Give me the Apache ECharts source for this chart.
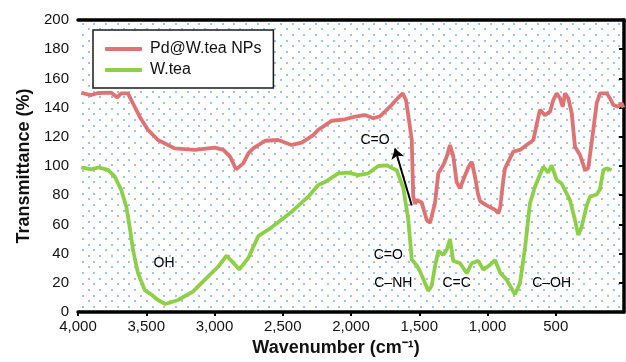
<!DOCTYPE html>
<html>
<head>
<meta charset="utf-8">
<script src="https://cdn.jsdelivr.net/npm/echarts@6/dist/echarts.min.js"></script>
<style>
  html, body { margin: 0; padding: 0; background: #fff; }
  #chart { width: 626px; height: 362px; }
</style>
</head>
<body>
<div id="chart"></div>
<script>
// 数据：波数 / 透过率
const pdWavenumber = [3976, 3903, 3853, 3756, 3712, 3683, 3634, 3585, 3548, 3487, 3414, 3292, 3145, 2999, 2935,
  2886, 2842, 2789, 2752, 2716, 2630, 2533, 2435, 2361, 2276, 2240, 2141, 2044, 1971, 1897, 1837, 1788, 1714,
  1670, 1641, 1621, 1597, 1573, 1555, 1544, 1530, 1519, 1482, 1445, 1421, 1385, 1360, 1324, 1300, 1275, 1250,
  1226, 1201, 1178, 1141, 1116, 1092, 1070, 1055, 1006, 945, 921, 906, 896, 884, 872, 811, 762, 713, 664, 641,
  616, 579, 542, 518, 493, 469, 449, 432, 408, 383, 359, 322, 286, 262, 225, 200, 176, 127, 103, 78, 42, 17, 5];
const pdTransmittance = [150, 148.6, 150, 150.2, 147, 149.8, 149.8, 140.6, 133.8, 124.7, 117.8, 112.1, 111, 112.6, 111,
  106.4, 97.7, 101.8, 108.7, 112.1, 117.3, 117.8, 114.4, 116, 121.2, 124.7, 131, 132, 133.8, 134.9, 132.7, 134, 140.6,
  145.2, 148, 149.8, 145, 130, 117.8, 79, 74, 76.7, 75, 63, 61, 74.5, 95, 100.7, 106, 114.4, 106.4,
  89, 84.7, 90.4, 99, 103, 93, 81, 76, 73, 70, 67.6, 72, 81, 90.4, 98.4, 109.8, 111, 114.4, 117.8, 128,
  138.4, 134.9, 137.2, 145.2, 149.8, 146.4, 140.6, 149.8, 146.4, 136.1, 113.2, 107.5, 97.3, 98.4, 124.7, 143, 149.8, 149.8, 146.4, 141.8, 140.6, 143, 140];

const teaWavenumber = [3976, 3903, 3853, 3780, 3731, 3683, 3646, 3621, 3597, 3560, 3511, 3475, 3414, 3360, 3267,
  3158, 3072, 2974, 2911, 2818, 2752, 2679, 2581, 2434, 2313, 2240, 2191, 2093, 2020, 1947, 1873, 1800, 1739,
  1665, 1617, 1580, 1555, 1519, 1495, 1434, 1409, 1385, 1360, 1324, 1299, 1275, 1251, 1201, 1152, 1116, 1067,
  1031, 982, 945, 908, 859, 799, 762, 725, 689, 652, 616, 591, 555, 530, 493, 457, 396, 359, 335, 310, 273,
  249, 200, 176, 151, 127, 91];
const teaTransmittance = [99, 97.7, 99, 97.3, 92.7, 83.6, 72, 58, 42.5, 26.5, 15, 12.8, 8.2, 5.5, 8.2,
  13.9, 22, 31, 38.5, 29.2, 37, 52, 58, 68.7, 79, 87, 89, 95, 95.4, 93.8, 95, 100, 100.5,
  97, 85, 63, 36, 32, 28, 14.5, 18, 31, 42, 39, 42.5, 50, 35, 33.4, 26.5, 33.4, 35,
  29, 32.2, 35.6, 27, 22, 12, 19.7, 44, 74.5, 85.8, 94, 99.5, 95.5, 100.5, 90.4, 88, 76.7, 63, 52.7, 58.4, 73,
  79, 80.5, 84, 97.3, 98.4, 97.3];

const seriesNames = ['Pd@W.tea NPs', 'W.tea'];
const xTicks = [0, 4000, 500];
const yTicks = [0, 200, 20];

// 峰位标注 [文字, 波数, 透过率]
const peakLabels = [
  ['C=O', 1824, 118],
  ['OH', 3370, 33.6],
  ['C=O', 1727, 39],
  ['C\u2013NH', 1690, 19.7],
  ['C=C', 1226, 19.7],
  ['C\u2013OH', 530, 19.7]
];
const arrowFrom = [1555, 73];
const arrowTo = [1678, 112];

function zip(xs, ys) {
  return xs.map((x, i) => [x, ys[i]]);
}

// 点状背景
function makeDots() {
  const c = document.createElement('canvas');
  c.width = 35;
  c.height = 34;
  const ctx = c.getContext('2d');
  ctx.fillStyle = 'rgba(60, 135, 220, 0.5)';
  for (let r = 0; r < 6; r++) {
    const y = Math.round(r * 34 / 6);
    const off = (r % 2) * 35 / 6;
    for (let k = 0; k < 3; k++) {
      const x = Math.round(k * 35 / 3 + off);
      ctx.fillRect(x, y, 2, 2);
    }
  }
  return c;
}

const font = "'Liberation Sans', Arial, sans-serif";
const chart = echarts.init(document.getElementById('chart'));

const option = {
  animation: false,
  backgroundColor: '#fff',
  textStyle: { fontFamily: font },
  grid: {
    left: 78, right: 2, top: 20, bottom: 50,
    show: true,
    borderWidth: 0,
    backgroundColor: { image: makeDots(), repeat: 'repeat' }
  },
  legend: {
    data: seriesNames,
    orient: 'vertical',
    left: 93, top: 30,
    padding: [11, 12, 10, 12],
    itemGap: 5,
    itemWidth: 37,
    itemHeight: 4,
    icon: 'roundRect',
    backgroundColor: '#fff',
    borderColor: '#1a1a1a',
    borderWidth: 1.5,
    borderRadius: 0,
    textStyle: { fontSize: 16, color: '#111', fontFamily: font, padding: [0, 0, 0, 3] }
  },
  xAxis: [{
    type: 'value',
    inverse: true,
    min: xTicks[0], max: xTicks[1], interval: xTicks[2],
    name: 'Wavenumber (cm\u207B\u00B9)',
    nameLocation: 'middle',
    nameGap: 27,
    nameTextStyle: { fontSize: 18, fontWeight: 'bold', color: '#111', padding: [0, 30, 0, 0] },
    axisLine: { show: true, lineStyle: { color: '#000', width: 3.5 } },
    axisTick: { show: true, length: 4, lineStyle: { color: '#000', width: 2 } },
    axisLabel: {
      fontSize: 15, color: '#111', margin: 7, showMinLabel: false,
      formatter: v => v.toLocaleString('en-US')
    },
    splitLine: { show: false }
  }, {
    type: 'value',
    position: 'top',
    inverse: true,
    min: xTicks[0], max: xTicks[1],
    axisLine: { show: true, lineStyle: { color: '#000', width: 3.5 } },
    axisTick: { show: false },
    axisLabel: { show: false },
    splitLine: { show: false }
  }],
  yAxis: {
    type: 'value',
    min: yTicks[0], max: yTicks[1], interval: yTicks[2],
    name: 'Transmittance (%)',
    nameLocation: 'middle',
    nameGap: 45,
    nameTextStyle: { fontSize: 18, fontWeight: 'bold', color: '#111' },
    axisLine: { show: true, lineStyle: { color: '#000', width: 3.5 } },
    axisTick: { show: true, length: 5, lineStyle: { color: '#000', width: 2 } },
    axisLabel: { fontSize: 15, color: '#111', margin: 9 },
    splitLine: { show: false }
  },
  series: [
    {
      name: seriesNames[0],
      type: 'line',
      data: zip(pdWavenumber, pdTransmittance),
      symbol: 'none',
      color: '#df7272',
      lineStyle: { width: 3.8, color: '#df7272' },
      emphasis: { disabled: true },
      markLine: {
        silent: true,
        symbol: ['none', 'arrow'],
        symbolSize: 10,
        label: { show: false },
        lineStyle: { color: '#000', width: 2, type: 'solid' },
        data: [[{ coord: arrowFrom }, { coord: arrowTo }]]
      },
      z: 3
    },
    {
      name: seriesNames[1],
      type: 'line',
      data: zip(teaWavenumber, teaTransmittance),
      symbol: 'none',
      color: '#8dcf47',
      lineStyle: { width: 3.8, color: '#8dcf47' },
      emphasis: { disabled: true },
      z: 3
    },
    {
      name: 'labels',
      type: 'scatter',
      data: peakLabels.map(p => ({ name: p[0], value: [p[1], p[2]] })),
      symbolSize: 1,
      itemStyle: { color: 'rgba(0,0,0,0)' },
      label: {
        show: true,
        position: 'inside',
        formatter: p => p.name,
        fontSize: 14,
        color: '#000',
        opacity: 1,
        textBorderWidth: 0,
        fontFamily: font
      },
      emphasis: { disabled: true },
      silent: true,
      z: 5
    }
  ]
};

chart.setOption(option);
</script>
</body>
</html>
